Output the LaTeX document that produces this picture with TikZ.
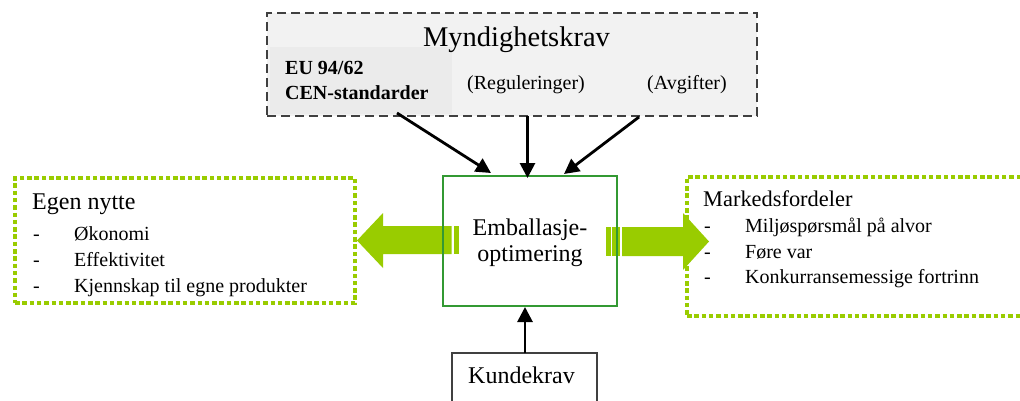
\documentclass[tikz,border=0pt]{standalone}
\usepackage{fontspec}
\setmainfont{Liberation Serif}
\usetikzlibrary{arrows.meta}
\definecolor{limeg}{HTML}{99CC00}
\definecolor{boxgreen}{HTML}{339933}
\definecolor{dashgray}{HTML}{404040}
\definecolor{panel}{HTML}{F2F2F2}
\definecolor{panelin}{HTML}{EBEBEB}
\tikzset{
  dottedbox/.style={draw=limeg, line width=4.5pt, dash pattern=on 4.5pt off 2.8pt, inner sep=0pt},
  reqarrow/.style={line width=2.8pt, -{Triangle[length=15pt,width=15pt]}},
  txt/.style={inner sep=0pt, anchor=base west},
  ctxt/.style={inner sep=0pt, anchor=base},
}
\newcommand{\fsz}[1]{\fontsize{#1}{#1}\selectfont}
\begin{document}
\begin{tikzpicture}[x=1pt,y=-1pt]
\clip (0,0) rectangle (1020,400);
\fill[white] (0,0) rectangle (1020,400);

% Myndighetskrav panel
\node[draw=dashgray, fill=panel, line width=2.6pt, dash pattern=on 9pt off 5pt,
      minimum width=490pt, minimum height=103pt, inner sep=0pt] (myn) at (512,64.5) {};
\fill[panelin] (270,47) rectangle (452,114);
\node[ctxt] (myntitle) at (516.5,46) {\fsz{28.5}Myndighetskrav};
\node[txt] (eu) at (285,74) {\fsz{20}\bfseries EU 94/62};
\node[txt] (cen) at (285,99) {\fsz{20}\bfseries CEN-standarder};
\node[ctxt] (reg) at (526,89) {\fsz{20}(Reguleringer)};
\node[ctxt] (avg) at (687,89) {\fsz{20}(Avgifter)};

% dotted side boxes
\node[dottedbox, minimum width=340pt, minimum height=125pt] (egen) at (185,240.5) {};
\node[dottedbox, minimum width=353pt, minimum height=139pt] (mark) at (863.5,246.5) {};

\node[txt] (egent) at (32,209) {\fsz{24}Egen nytte};
\node[txt] (ed1) at (33,240) {\fsz{20}-};
\node[txt] (ed2) at (33,266) {\fsz{20}-};
\node[txt] (ed3) at (33,292) {\fsz{20}-};
\node[txt] (ei1) at (74,240) {\fsz{20}Økonomi};
\node[txt] (ei2) at (74,266) {\fsz{20}Effektivitet};
\node[txt] (ei3) at (74,292) {\fsz{20}Kjennskap til egne produkter};

\node[txt] (markt) at (703,206) {\fsz{22.4}Markedsfordeler};
\node[txt] (md1) at (704,232) {\fsz{20}-};
\node[txt] (md2) at (704,258) {\fsz{20}-};
\node[txt] (md3) at (704,283) {\fsz{20}-};
\node[txt] (mi1) at (745,232) {\fsz{20}Miljøspørsmål på alvor};
\node[txt] (mi2) at (745,258) {\fsz{20}Føre var};
\node[txt] (mi3) at (745,283) {\fsz{20}Konkurransemessige fortrinn};

% green block arrows
\fill[limeg] (451.5,226) -- (383,226) -- (383,213) -- (357,240.5) -- (383,268) -- (383,254) -- (451.5,254) -- cycle;
\fill[limeg] (453.5,226) rectangle (458.5,254);
\fill[limeg] (606,227) rectangle (610.5,256);
\fill[limeg] (612.3,227) rectangle (620.3,256);
\fill[limeg] (622,227) -- (683,227) -- (683,213) -- (709,241.5) -- (683,270) -- (683,256) -- (622,256) -- cycle;

% central box
\node[draw=boxgreen, line width=1.3pt, minimum width=174pt, minimum height=130pt, inner sep=0pt] (emb) at (530,241) {};
\node[ctxt] (emb1) at (530,235) {\fsz{24}Emballasje-};
\node[ctxt] (emb2) at (530,261) {\fsz{24}optimering};

% Kundekrav
\node[draw=dashgray, line width=1.2pt, minimum width=145pt, minimum height=57pt, inner sep=0pt] (kunde) at (524.5,381.5) {};
\node[ctxt] (kundet) at (521.5,383) {\fsz{24}Kundekrav};

% connectors
\coordinate (s1) at (397,113);
\coordinate (e1) at (491,173);
\coordinate (s2) at (527.5,116);
\coordinate (e2) at (527.5,178);
\coordinate (s3) at (639,117);
\coordinate (e3) at (564,174);
\coordinate (s4) at (525,353);
\coordinate (e4) at (525,307);
\draw[reqarrow] (s1) -- (e1);
\draw[reqarrow] (s2) -- (e2);
\draw[reqarrow] (s3) -- (e3);
\draw[reqarrow] (s4) -- (e4);
\end{tikzpicture}
\end{document}
